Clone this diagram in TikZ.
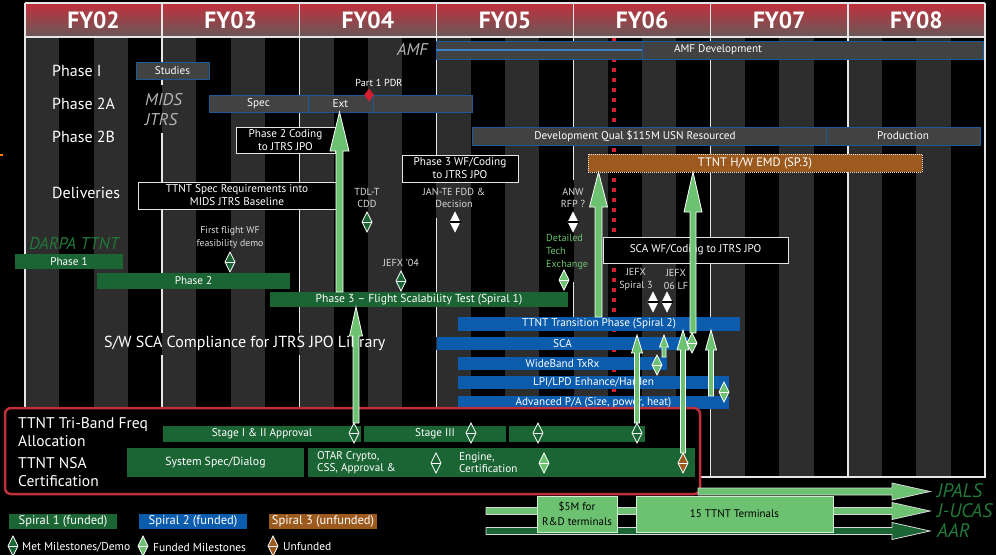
\documentclass[tikz,border=0pt]{standalone}
\usepackage{fontspec}
\setmainfont{PT Sans}
\definecolor{gstripe}{HTML}{2D2D2D}
\definecolor{boxgray}{HTML}{424242}
\definecolor{boxblue}{HTML}{1C5A96}
\definecolor{midblue}{HTML}{3A80C8}
\definecolor{dgreen}{HTML}{1B6434}
\definecolor{lgreen}{HTML}{6CC270}
\definecolor{bblue}{HTML}{0B5CAD}
\definecolor{orng}{HTML}{9C5A1E}
\definecolor{hdrtop}{HTML}{C2303C}
\definecolor{hdrbot}{HTML}{6A5858}
\definecolor{redframe}{HTML}{C0303A}
\definecolor{reddot}{HTML}{D42030}
\definecolor{mgray}{HTML}{B4B4B4}
\definecolor{lbltxt}{HTML}{DADADA}
\definecolor{itgreen}{HTML}{217A3A}
\definecolor{ylines}{HTML}{E6E6E6}

% vertical arrow: x, ybottom, ytip, yheadbase, shaft half, head half, fill
\newcommand\uparr[7]{%
  \filldraw[fill=#7, draw=white, line width=0.8pt]
    (#1-#5,#2) -- (#1-#5,#4) -- (#1-#6,#4) -- (#1,#3) -- (#1+#6,#4) -- (#1+#5,#4) -- (#1+#5,#2) -- cycle;}
% horizontal arrow: x0, y, xheadbase, xtip, shaft half, head half, fill
\newcommand\rtarr[7]{%
  \filldraw[fill=#7, draw=white!85!black, line width=0.8pt]
    (#1,#2-#5) -- (#3,#2-#5) -- (#3,#2-#6) -- (#4,#2) -- (#3,#2+#6) -- (#3,#2+#5) -- (#1,#2+#5) -- cycle;}

\tikzset{
  pics/ms/.style={code={
    \filldraw[fill=#1, draw=white, line width=0.8pt] (0,-10) -- (5,0) -- (0,10) -- (-5,0) -- cycle;
    \draw[white, line width=0.8pt] (-5,0) -- (5,0);}},
  pics/wms/.style={code={
    \filldraw[fill=white, draw=white, line width=0.5pt] (0,-10) -- (5,0) -- (0,10) -- (-5,0) -- cycle;
    \draw[black, line width=1.3pt] (-5.5,0) -- (5.5,0);}},
}

\begin{document}
\begin{tikzpicture}[x=1pt,y=-1pt,
  bar/.style={inner sep=0pt, outer sep=0pt, text=white, font=\fontsize{11.2}{13}\selectfont, align=center},
  gbox/.style={bar, fill=boxgray, draw=boxblue, line width=1pt},
  wbox/.style={bar, fill=black, draw=white!90!black, line width=1pt},
  gbar/.style={bar, fill=dgreen},
  bbar/.style={bar, fill=bblue},
  rowlbl/.style={inner sep=0pt, anchor=west, text=white, font=\fontsize{16}{17.5}\selectfont, align=left},
  mlbl/.style={inner sep=0pt, text=lbltxt, font=\fontsize{10.2}{12.5}\selectfont, align=center},
  itl/.style={inner sep=0pt, anchor=west, font=\fontsize{17}{19}\selectfont\itshape},
  hdr/.style={inner sep=0pt, text=white, font=\fontsize{23.5}{23.5}\selectfont\bfseries},
  txt/.style={inner sep=0pt, text=white, font=\fontsize{11.2}{12}\selectfont},
]
\fill[black] (0,0) rectangle (996,555);
\useasboundingbox (0,0) rectangle (996,555);

% ---------- stripes ----------
\foreach \i in {0,...,6}{
  \foreach \q in {0,2}{
    \fill[gstripe] ({25+137.143*\i+34.286*\q},37) rectangle ++(34.286,440);
  }}

% ---------- header ----------
\foreach \k in {0,...,33}{
  \pgfmathsetmacro\pp{100-\k*100/33}
  \fill[hdrtop!\pp!hdrbot] (25,{3+\k}) rectangle (985,{4.1+\k});
}
\draw[ylines, line width=1.5pt] (25,3) -- (985,3) (25,37) -- (985,37);
\foreach \i in {0,...,7} \draw[ylines, line width=1.5pt] ({25+137.143*\i},3) -- ({25+137.143*\i},37);
\foreach \i/\t in {0/FY02,1/FY03,2/FY04,3/FY05,4/FY06,5/FY07,6/FY08}
  \node[hdr] (h\i) at ({93.57+137.143*\i},20.5) {\t};

% ---------- frame and year lines ----------
\draw[ylines, line width=1.3pt] (25,37) -- (25,477) -- (985,477) -- (985,37);
\foreach \x/\a/\b in {162.1/37/62, 162.1/79/85, 162.1/133/182, 162.1/209/273, 162.1/289/333, 162.1/355/408,
  299.3/37/95, 299.3/112/127, 299.3/153/182, 299.3/209/292, 299.3/307/333, 299.3/355/408,
  436.4/37/41, 436.4/59/95, 436.4/112/155, 436.4/218/292, 436.4/307/337, 436.4/350/408,
  573.6/37/41, 573.6/59/127, 573.6/145/180, 573.6/282/317,
  710.7/37/41, 710.7/59/127, 710.7/145/154, 710.7/172/237, 710.7/263/317, 710.7/331/477,
  847.9/37/41, 847.9/59/127, 847.9/145/477}
  \draw[ylines, line width=1.3pt] (\x,\a) -- (\x,\b);

% red dotted line
\draw[reddot, line width=4pt, dash pattern=on 4pt off 6pt] (614,38) -- (614,410);

% tiny orange mark
\fill[orange] (0,154) rectangle (3,156);

% ---------- row labels ----------
\node[rowlbl] (lp1) at (52,71) {Phase I};
\node[rowlbl] (lp2a) at (52,104) {Phase 2A};
\node[rowlbl] (lp2b) at (52,137) {Phase 2B};
\node[rowlbl] (ldel) at (52,193) {Deliveries};
\node[itl, text=mgray] (mids) at (145,100) {MIDS};
\node[itl, text=mgray] (jtrs) at (145,120) {JTRS};
\node[itl, text=mgray, anchor=east] (amf) at (428,49) {AMF};
\node[itl, text=itgreen] (darpa) at (29,244) {DARPA TTNT};
\node[rowlbl, font=\fontsize{16}{18}\selectfont] (swsca) at (104,343) {S/W SCA Compliance for JTRS JPO Library};

% ---------- gray/blue bordered bars ----------
\node[gbox, minimum width=73pt, minimum height=17pt] (studies) at (172.5,70.5) {Studies};
\node[gbox, minimum width=99pt, minimum height=17pt] (spec) at (258.5,103.5) {Spec};
\node[gbox, minimum width=65pt, minimum height=17pt] (ext) at (340.5,103.5) {Ext};
\node[gbox, minimum width=99pt, minimum height=17pt] (extb) at (422.5,103.5) {};
\node[gbox, minimum width=206pt, minimum height=9pt] (amfa) at (539,45.5) {};
\node[gbox, minimum width=206pt, minimum height=9pt] (amfb) at (539,54.5) {};
\draw[midblue, line width=1.5pt] (amfa.south west) -- (amfa.south east);
\node[gbox, minimum width=341pt, minimum height=18pt] (amfdev) at (812.5,50) {};
\node[txt] (amfdevt) at (718,50) {AMF Development};
\node[gbox, minimum width=354pt, minimum height=18pt] (devq) at (649,136) {};
\node[txt] (devqt) at (635,136) {Development Qual \$115M USN Resourced};
\node[gbox, minimum width=154pt, minimum height=18pt] (prod) at (903,136) {Production};

% red diamond and PDR label
\filldraw[fill=reddot, draw=reddot] (369,89) -- (373.5,95) -- (369,101) -- (364.5,95) -- cycle;
\node[mlbl, text=white] (pdr) at (379,83) {Part 1 PDR};

% orange EMD
\node[bar, fill=orng, draw=white!80!orng, densely dotted, line width=1pt, minimum width=334pt, minimum height=18pt, font=\fontsize{12.3}{13}\selectfont] (emd) at (755,163) {TTNT H/W EMD (SP.3)};

% ---------- white outlined boxes ----------
\node[wbox, minimum width=99pt, minimum height=26pt] (p2c) at (285.5,140) {Phase 2 Coding\\to JTRS JPO};
\node[wbox, minimum width=198pt, minimum height=27pt] (tspec) at (237,195.5) {TTNT Spec Requirements into\\MIDS JTRS Baseline};
\node[wbox, minimum width=116pt, minimum height=27pt] (p3wf) at (460,168.5) {Phase 3 WF/Coding\\to JTRS JPO};
\node[wbox, minimum width=185pt, minimum height=26pt] (scawf) at (695.5,250) {SCA WF/Coding to JTRS JPO};

% ---------- green bars ----------
\node[gbar, minimum width=108pt, minimum height=15pt] (ph1) at (69,261.5) {Phase 1};
\node[gbar, minimum width=193pt, minimum height=16pt] (ph2) at (193.5,281) {Phase 2};
\node[gbar, minimum width=298pt, minimum height=15pt, font=\fontsize{11.6}{13}\selectfont] (ph3) at (419,299.5) {Phase 3 -- Flight Scalability Test (Spiral 1)};

% ---------- blue bars ----------
\node[bbar, minimum width=282pt, minimum height=14pt] (trans) at (599,324) {TTNT Transition Phase (Spiral 2)};
\node[bbar, minimum width=251pt, minimum height=13pt] (sca) at (562.5,343.5) {SCA};
\node[bbar, minimum width=209pt, minimum height=13pt] (wb) at (562.5,363.5) {WideBand TxRx};
\node[bbar, minimum width=271pt, minimum height=13pt] (lpi) at (593.5,382.5) {LPI/LPD Enhance/Harden};
\node[bbar, minimum width=271pt, minimum height=13pt] (adv) at (593.5,402.5) {Advanced P/A (Size, power, heat)};

% ---------- milestone labels ----------
\node[mlbl] (tdl) at (367,198) {TDL-T\\CDD};
\node[mlbl] (jante) at (454,198) {JAN-TE FDD \&\\Decision};
\node[mlbl] (anw) at (573,198) {ANW\\RFP ?};
\node[mlbl, font=\fontsize{9.8}{12.5}\selectfont] (ffwf) at (230,237.5) {First flight WF\\feasibility demo};
\node[mlbl] (jefx04) at (401,263) {JEFX '04};
\node[mlbl, text=lgreen, align=left, anchor=west, font=\fontsize{10.2}{13}\selectfont] (dte) at (546,252) {Detailed\\Tech\\Exchange};
\node[mlbl] (jefxs3) at (636,279.5) {JEFX\\Spiral 3};
\node[mlbl] (jefx06) at (676,279.5) {JEFX\\06 LF};

% ---------- red framed box ----------
\draw[redframe, fill=black, line width=2.5pt, rounded corners=6pt] (5,408) rectangle (700,494);
\node[rowlbl, font=\fontsize{15.5}{18}\selectfont] (tri) at (18,432) {TTNT Tri-Band Freq\\Allocation};
\node[rowlbl, font=\fontsize{15.5}{18}\selectfont] (nsa) at (18,472) {TTNT NSA\\Certification};
\node[gbar, minimum width=198pt, minimum height=16pt] (st12) at (262,434) {Stage I \& II Approval};
\node[gbar, minimum width=142pt, minimum height=16pt] (st3) at (435,434) {Stage III};
\node[gbar, minimum width=136pt, minimum height=16pt] (st4) at (577,434) {};
\node[gbar, minimum width=177pt, minimum height=29pt, font=\fontsize{11.8}{13}\selectfont] (nsa1) at (215.5,462.5) {System Spec/Dialog};
\node[gbar, minimum width=387pt, minimum height=29pt] (nsa2) at (501.5,462.5) {};
\node[txt, anchor=west, align=left] (otar) at (317,463) {OTAR Crypto,\\CSS, Approval \&};
\node[txt, anchor=west, align=left] (eng) at (459,463) {Engine,\\Certification};

% ---------- arrows ----------
\uparr{339.5}{292}{112}{151}{3.5}{9.5}{lgreen}
\uparr{356}{423}{307}{336}{3}{6.5}{lgreen}
\uparr{598.5}{317}{172}{207}{3.5}{9}{lgreen}
\uparr{693}{333}{172}{212}{3}{9}{lgreen}
\uparr{637}{423}{335}{353}{2.5}{5.5}{lgreen}
\uparr{664}{357}{335}{347}{2}{4.5}{lgreen}
\uparr{683}{453}{330}{350}{2.5}{6}{lgreen}
\uparr{711}{396}{330}{350}{2.5}{5.5}{lgreen}

% ---------- diamonds ----------
\pic (d1) at (367,222) {ms=dgreen};
\pic (d2) at (455,222) {wms};
\pic (d3) at (573,222) {wms};
\pic (d4) at (230,262) {ms=dgreen};
\pic (d5) at (401,281) {ms=dgreen};
\pic (d6) at (564,280) {ms=lgreen};
\pic (d7) at (653,302) {wms};
\pic (d8) at (667,302) {wms};
\pic (d9) at (657,365) {ms=lgreen};
\pic (d10) at (692,343) {ms=lgreen};
\pic (d11) at (724,392) {ms=lgreen};
\pic (d12) at (354,433) {ms=dgreen};
\pic (d13) at (471,433) {ms=dgreen};
\pic (d14) at (538,433) {ms=dgreen};
\pic (d15) at (637,433) {ms=dgreen};
\pic (d16) at (436,463) {ms=dgreen};
\pic (d17) at (544,463) {ms=lgreen};
\pic (d18) at (683,463) {ms=orng};

% ---------- legend ----------
\node[gbar, minimum width=108pt, minimum height=15pt, font=\fontsize{12.5}{13}\selectfont] (lg1) at (63,521.5) {Spiral 1 (funded)};
\node[bbar, minimum width=108pt, minimum height=15pt, font=\fontsize{12.5}{13}\selectfont] (lg2) at (193,521.5) {Spiral 2 (funded)};
\node[bar, fill=orng, minimum width=108pt, minimum height=15pt, font=\fontsize{12.5}{13}\selectfont] (lg3) at (323,521.5) {Spiral 3 (unfunded)};
\pic (ld1) at (13,546) {ms=dgreen};
\node[txt, anchor=west, font=\fontsize{11.5}{12}\selectfont] (lt1) at (22,547) {Met Milestones/Demo};
\pic (ld2) at (143,546) {ms=lgreen};
\node[txt, anchor=west, font=\fontsize{11.5}{12}\selectfont] (lt2) at (153,547) {Funded Milestones};
\pic (ld3) at (273,546) {ms=orng};
\node[txt, anchor=west, font=\fontsize{11.5}{12}\selectfont] (lt3) at (283,547) {Unfunded};

% ---------- bottom right ----------
\rtarr{698}{491.5}{892}{930}{3.5}{8.5}{lgreen}
\rtarr{486}{511}{892}{930}{3.5}{8.5}{lgreen}
\rtarr{486}{531}{892}{930}{3.5}{8.5}{dgreen}
\node[bar, fill=lgreen, draw=white!70!lgreen, line width=1pt, text=black, minimum width=80pt, minimum height=36pt, font=\fontsize{11}{15}\selectfont] (five) at (577,514) {\$5M for\\R\&D terminals};
\node[bar, fill=lgreen, draw=white!70!lgreen, line width=1pt, text=black, minimum width=197pt, minimum height=36pt, font=\fontsize{11}{12}\selectfont] (fifteen) at (734.5,514) {15 TTNT Terminals};
\node[itl, text=itgreen, font=\fontsize{19.5}{20}\selectfont\itshape] (jpals) at (937,491) {JPALS};
\node[itl, text=itgreen, font=\fontsize{19.5}{20}\selectfont\itshape] (jucas) at (937,511) {J-UCAS};
\node[itl, text=itgreen, font=\fontsize{19.5}{20}\selectfont\itshape] (aar) at (937,531) {AAR};
\end{tikzpicture}
\end{document}
